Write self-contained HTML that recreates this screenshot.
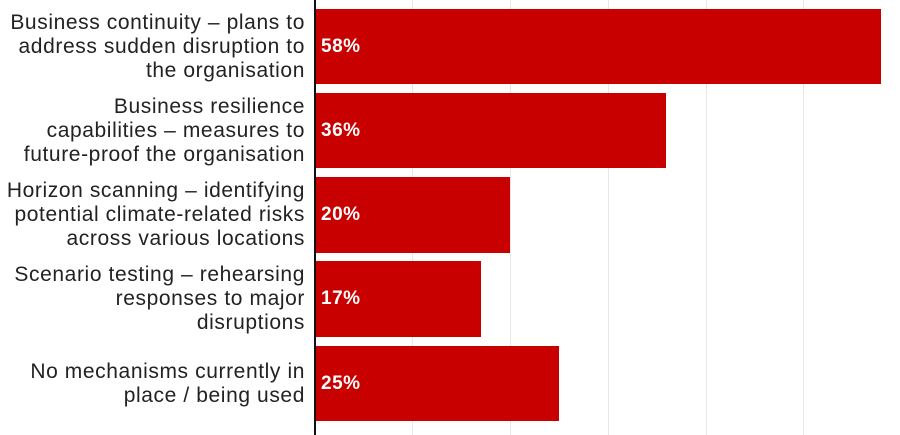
<!DOCTYPE html>
<html><head><style>
body{margin:0;background:#fff;width:900px;height:435px;overflow:hidden;position:relative;font-family:"Liberation Sans",sans-serif}
.g{position:absolute;top:0;height:435px;width:1px;background:#e6e6e6}
.ax{position:absolute;left:314px;top:0;width:2px;height:435px;background:#111}
.b{position:absolute;left:316px;background:#c80000;color:#fff;font-weight:bold;font-size:19px;letter-spacing:0.5px;display:flex;align-items:center;padding-left:5px;box-sizing:border-box}
.l{position:absolute;right:595px;width:330px;text-align:right;font-size:21px;letter-spacing:0.6px;line-height:24px;color:#222;display:flex;align-items:center;justify-content:flex-end;white-space:nowrap}
</style></head><body>
<div class="g" style="left:412px"></div>
<div class="g" style="left:510px"></div>
<div class="g" style="left:608px"></div>
<div class="g" style="left:706px"></div>
<div class="g" style="left:803px"></div>
<div class="b" style="top:9px;height:75px;width:565px">58%</div>
<div class="b" style="top:93px;height:75px;width:350px">36%</div>
<div class="b" style="top:177px;height:76px;width:194px">20%</div>
<div class="b" style="top:261px;height:76px;width:165px">17%</div>
<div class="b" style="top:346px;height:75px;width:243px">25%</div>
<div class="ax"></div>
<div class="l" style="top:9px;height:75px"><div>Business continuity – plans to<br>address sudden disruption to<br>the organisation</div></div>
<div class="l" style="top:93px;height:75px"><div>Business resilience<br>capabilities – measures to<br>future-proof the organisation</div></div>
<div class="l" style="top:177px;height:76px"><div>Horizon scanning – identifying<br>potential climate-related risks<br>across various locations</div></div>
<div class="l" style="top:261px;height:76px"><div>Scenario testing – rehearsing<br>responses to major<br>disruptions</div></div>
<div class="l" style="top:346px;height:75px"><div>No mechanisms currently in<br>place / being used</div></div>
</body></html>
